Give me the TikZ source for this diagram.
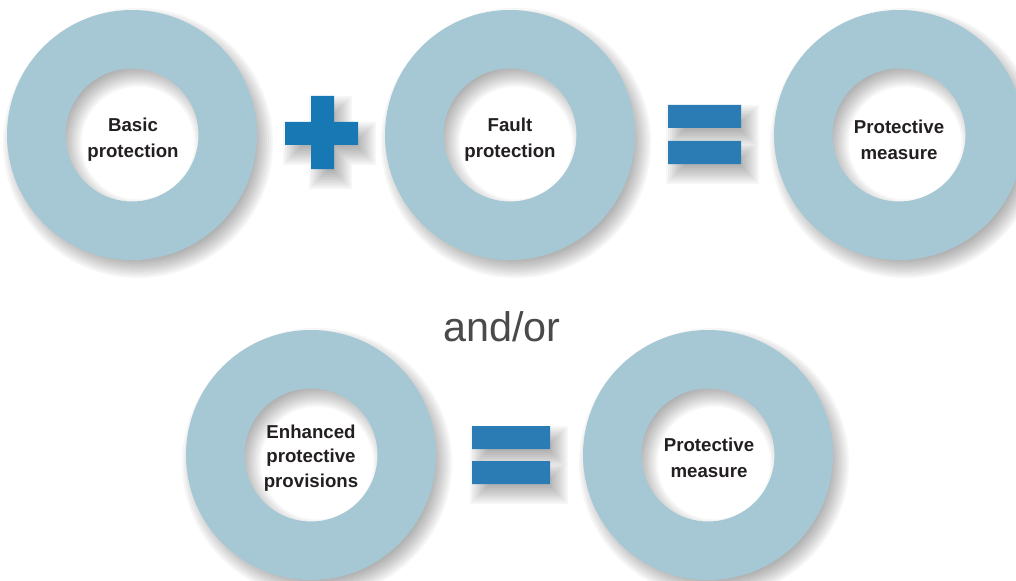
\documentclass[tikz,border=0pt]{standalone}
\usepackage{fontspec}
\setmainfont{Liberation Sans}
\newlength{\du}
\setlength{\du}{0.75pt}
\definecolor{ringcolor}{HTML}{A5C8D4}
\definecolor{pluscolor}{HTML}{1878B4}
\definecolor{equalcolor}{HTML}{2B7BB4}
\definecolor{labelcolor}{HTML}{231F20}
\definecolor{andcolor}{HTML}{4A4A4A}
\tikzset{
  ringlabel/.style={align=center, text=labelcolor, inner sep=0pt,
    font=\fontsize{14}{19.5}\selectfont\bfseries},
  shadowlayer/.style={fill=black, opacity=0.035},
}

\begin{document}
\begin{tikzpicture}
\pgftransformxscale{1.000000}
\pgftransformyscale{-1.000000}
\useasboundingbox (0\du,0\du) rectangle (1016\du,581\du);
% rings with soft shadow
\foreach \cx/\cy in {132/135,510/135,899/135,311/455,708/455}{
  \foreach \d in {-10,-8,...,10}{
    \fill[shadowlayer, even odd rule] ({(\cx+6)*\du},{(\cy+8)*\du})
      circle [radius={(125+\d)*\du}] circle [radius={(66.5-\d)*\du}];
  }
  \fill[ringcolor, even odd rule] (\cx\du,\cy\du)
    circle [radius=125\du] circle [radius=66.5\du];
}
% plus sign
\foreach \d in {-10,-8,...,10}{
  \fill[shadowlayer] ({(319-\d)*\du},{(106-\d)*\du}) rectangle ({(342+\d)*\du},{(179+\d)*\du})
    ({(293-\d)*\du},{(132-\d)*\du}) rectangle ({(366+\d)*\du},{(155+\d)*\du});
}
\fill[pluscolor] (311\du,96\du) rectangle (334\du,169\du)
  (285\du,122\du) rectangle (358\du,145\du);
% equals signs
\foreach \xa/\xb/\ya/\yb in {668/741/105/164,472/550/426/484}{
  \foreach \d in {-10,-8,...,10}{
    \fill[shadowlayer] ({(\xa+8-\d)*\du},{(\ya+10-\d)*\du}) rectangle ({(\xb+8+\d)*\du},{(\ya+33+\d)*\du})
      ({(\xa+8-\d)*\du},{(\yb-13-\d)*\du}) rectangle ({(\xb+8+\d)*\du},{(\yb+10+\d)*\du});
  }
  \fill[equalcolor] (\xa\du,\ya\du) rectangle (\xb\du,{(\ya+23)*\du})
    (\xa\du,{(\yb-23)*\du}) rectangle (\xb\du,\yb\du);
}
% labels
\node[ringlabel] (basic) at (133\du,140\du){Basic\\protection};
\node[ringlabel] (fault) at (510\du,140\du){Fault\\protection};
\node[ringlabel] (measuretop) at (899\du,140\du){Protective\\measure};
\node[ringlabel, font=\fontsize{14}{18.3}\selectfont\bfseries] (enhanced) at (311\du,458\du){Enhanced\\protective\\provisions};
\node[ringlabel] (measurebottom) at (709\du,458\du){Protective\\measure};
\node[anchor=base, text=andcolor, font=\fontsize{31}{36}\selectfont] (andor) at (502\du,341\du){and/or};
\end{tikzpicture}
\end{document}
